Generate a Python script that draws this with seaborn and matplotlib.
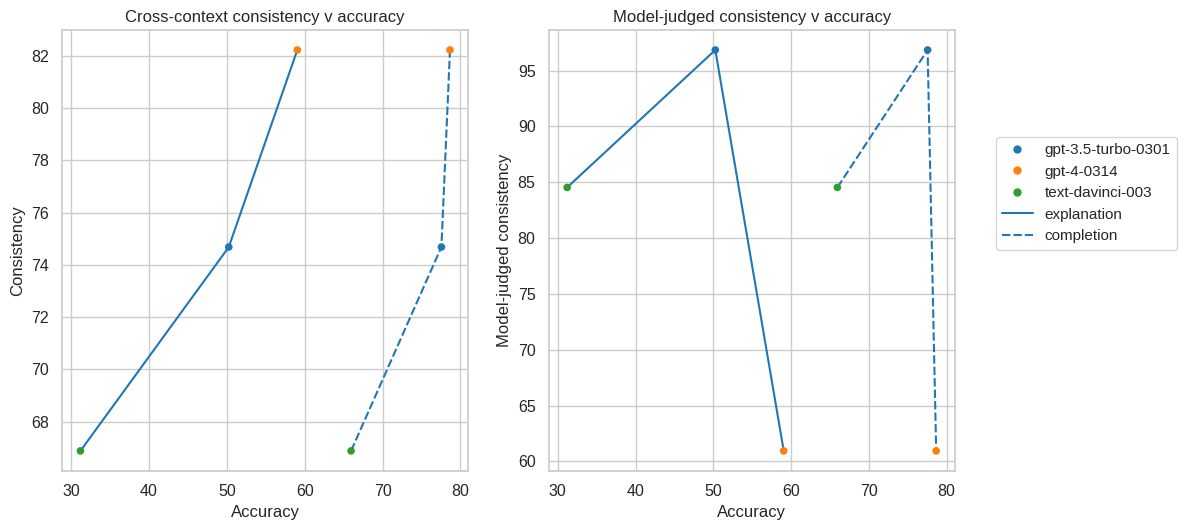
import matplotlib
matplotlib.use("Agg")
import matplotlib.pyplot as plt
import seaborn as sns
import pandas as pd
from matplotlib.lines import Line2D

models = ["gpt-3.5-turbo-0301", "gpt-4-0314", "text-davinci-003"]
acc_explanation = [50.25, 59.05, 31.2]
acc_completion = [77.55, 78.65, 65.95]
cross_consistency = [74.68, 82.22, 66.88]
judged_consistency = [96.85, 60.95, 84.54]
conditions = ["explanation", "completion"]

rows = []
for cond, accs in zip(conditions, [acc_explanation, acc_completion]):
    for m, a, c, j in zip(models, accs, cross_consistency, judged_consistency):
        rows.append(dict(model=m, condition=cond, accuracy=a, consistency=c, judged=j))
df = pd.DataFrame(rows)

sns.set_theme(style="whitegrid", palette="tab10")
plt.rcParams['font.family'] = ['Liberation Sans', 'DejaVu Sans']

fig = plt.figure(figsize=(11.8, 5.25), dpi=100)
ax1 = fig.add_axes([0.0525, 0.103, 0.3445, 0.840])
ax2 = fig.add_axes([0.465, 0.103, 0.344, 0.840])

tab = sns.color_palette("tab10")
palette = dict(zip(models, tab[:3]))
dashes = {"explanation": "", "completion": (4, 1.5)}

for ax, ycol, title, ylabel in [
    (ax1, "consistency", "Cross-context consistency v accuracy", "Consistency"),
    (ax2, "judged", "Model-judged consistency v accuracy", "Model-judged consistency"),
]:
    sns.lineplot(data=df, x="accuracy", y=ycol, style="condition", style_order=conditions,
                 dashes=dashes, color=tab[0], ax=ax, legend=False,
                 linewidth=1.5)
    sns.scatterplot(data=df, x="accuracy", y=ycol, hue="model", hue_order=models,
                    palette=palette, ax=ax, legend=False, s=30, linewidth=0, zorder=3)
    ax.set_title(title, fontsize=12)
    ax.set_xlabel("Accuracy", fontsize=12)
    ax.set_ylabel(ylabel, fontsize=12)
    ax.tick_params(labelsize=11.5)
    ax.set_xticks([30, 40, 50, 60, 70, 80])

handles = [Line2D([], [], marker="o", linestyle="", color=palette[m], markersize=5) for m in models]
handles += [Line2D([], [], color=tab[0], linestyle="-"),
            Line2D([], [], color=tab[0], linestyle=(0, (4, 1.5)))]
labels = models + conditions
fig.legend(handles, labels, loc="center left", bbox_to_anchor=(0.8375, 0.632), fontsize=11,
           frameon=True)

fig.savefig("out.png", dpi=100)
